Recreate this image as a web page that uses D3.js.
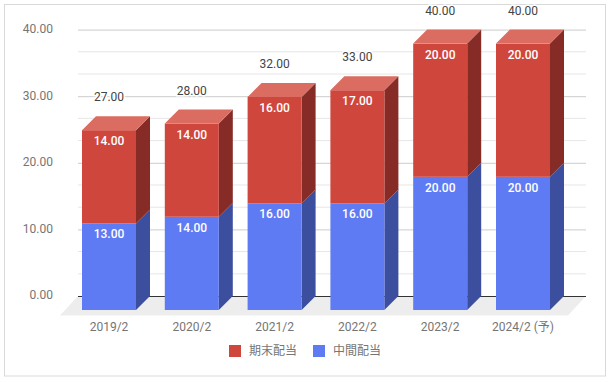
<!DOCTYPE html>
<html>
<head>
<meta charset="utf-8">
<script src="https://d3js.org/d3.v7.min.js"></script>
<style>
  html, body { margin: 0; padding: 0; background: #fff; }
  svg { display: block; }
  text { font-family: Roboto, "Noto Sans CJK JP", sans-serif; font-size: 12px; }
  .y.axis text, .x.axis text, .legend text { fill: #757575; }
  .total { fill: #444; stroke: #fff; stroke-width: 3px; paint-order: stroke; }
  .inner { fill: #fff; font-weight: 500; }
</style>
</head>
<body>
<script>
var categories = ["2019/2", "2020/2", "2021/2", "2022/2", "2023/2", "2024/2 (予)"];
var interim = [13, 14, 16, 16, 20, 20];   // 中間配当
var yearEnd = [14, 14, 16, 17, 20, 20];   // 期末配当
var totals = [27, 28, 32, 33, 40, 40];
var yTicks = [0, 10, 20, 30, 40];
var yMinorTicks = [3.33, 6.67, 13.33, 16.67, 23.33, 26.67, 33.33, 36.67];
var legendNames = ["期末配当", "中間配当"];

var width = 611, height = 382;
var depth = 14;   // how far the 3d faces are pushed back

var colour = {
  interim: { front: "#5f7bf3", side: "#3c4f9f" },
  yearEnd: { front: "#cf463c", side: "#862b26", top: "#db6c61" }
};

var x = d3.scaleBand()
  .domain(categories)
  .range([82, 550])
  .paddingInner(0.3478);

// y is the front plane of the bars, the gridlines sit on the back plane
var y = d3.scaleLinear().domain([0, 40]).range([310, 43.6]);

var svg = d3.select("body").append("svg")
  .attr("width", width)
  .attr("height", height);

svg.append("rect")
  .attr("x", 4.5).attr("y", 4.5)
  .attr("width", 601).attr("height", 371.5)
  .attr("fill", "#fff")
  .attr("stroke", "#d9d9d9");

function pts(list) {
  return list.map(function(p) { return p.join(","); }).join(" ");
}

// minor gridlines
svg.append("g").selectAll("line")
  .data(yMinorTicks)
  .enter().append("line")
    .attr("x1", 78).attr("x2", 586)
    .attr("y1", function(d) { return y(d) - depth; })
    .attr("y2", function(d) { return y(d) - depth; })
    .attr("stroke", "#e6e6e6");

// floor
svg.append("polygon")
  .attr("points", pts([[78, y(0) - depth], [586, y(0) - depth],
    [568, y(0) + 5.5], [60, y(0) + 5.5]]))
  .attr("fill", "#ededed");

// major gridlines and y labels
var yAxis = d3.axisLeft(y)
  .tickValues(yTicks)
  .tickFormat(d3.format(".2f"))
  .tickSize(0)
  .tickPadding(25);

var yAxisG = svg.append("g")
  .attr("class", "y axis")
  .attr("transform", "translate(78," + (-depth) + ")")
  .call(yAxis);
yAxisG.select(".domain").remove();
yAxisG.selectAll("line")
  .attr("x2", 508)
  .attr("stroke", function(d) { return d === 0 ? "#333" : "#ccc"; });
yAxisG.selectAll("text").attr("y", -1);

function drawSegment(g, cat, v0, v1, col) {
  var left = x(cat), right = left + x.bandwidth();
  g.append("polygon")
    .attr("points", pts([[right, y(v0)], [right + depth, y(v0) - depth],
      [right + depth, y(v1) - depth], [right, y(v1)]]))
    .attr("fill", col.side);
  g.append("rect")
    .attr("x", left).attr("y", y(v1))
    .attr("width", x.bandwidth()).attr("height", y(v0) - y(v1))
    .attr("fill", col.front);
}

var bars = svg.append("g").attr("class", "bars");
categories.forEach(function(cat, i) {
  var g = bars.append("g");
  var left = x(cat), right = left + x.bandwidth();
  var topV = interim[i] + yearEnd[i];
  drawSegment(g, cat, 0, interim[i], colour.interim);
  drawSegment(g, cat, interim[i], topV, colour.yearEnd);
  g.append("polygon")
    .attr("points", pts([[left, y(topV)], [left + depth, y(topV) - depth],
      [right + depth, y(topV) - depth], [right, y(topV)]]))
    .attr("fill", colour.yearEnd.top);
});

// value labels
var fmt = d3.format(".2f");
var labels = svg.append("g").attr("text-anchor", "middle");
categories.forEach(function(cat, i) {
  var cx = x(cat) + x.bandwidth() / 2;
  labels.append("text").attr("class", "inner")
    .attr("x", cx).attr("y", y(interim[i]) + 15)
    .text(fmt(interim[i]));
  labels.append("text").attr("class", "inner")
    .attr("x", cx).attr("y", y(interim[i] + yearEnd[i]) + 15)
    .text(fmt(yearEnd[i]));
  labels.append("text").attr("class", "total")
    .attr("x", cx).attr("y", y(totals[i]) - depth - 15)
    .text(fmt(totals[i]));
});

// x axis labels
var xAxisG = svg.append("g")
  .attr("class", "x axis")
  .attr("transform", "translate(0,331)")
  .call(d3.axisBottom(x).tickSize(0).tickPadding(0));
xAxisG.select(".domain").remove();
xAxisG.selectAll("text").attr("dy", 0).attr("y", 0);

// legend
var legendX = [229, 313];
var legendColours = [colour.yearEnd.front, colour.interim.front];
var legend = svg.append("g").attr("class", "legend");
legendNames.forEach(function(name, i) {
  legend.append("rect")
    .attr("x", legendX[i]).attr("y", 345)
    .attr("width", 12).attr("height", 12)
    .attr("fill", legendColours[i]);
  legend.append("text")
    .attr("x", legendX[i] + 20).attr("y", 355)
    .text(name);
});
</script>
</body>
</html>
